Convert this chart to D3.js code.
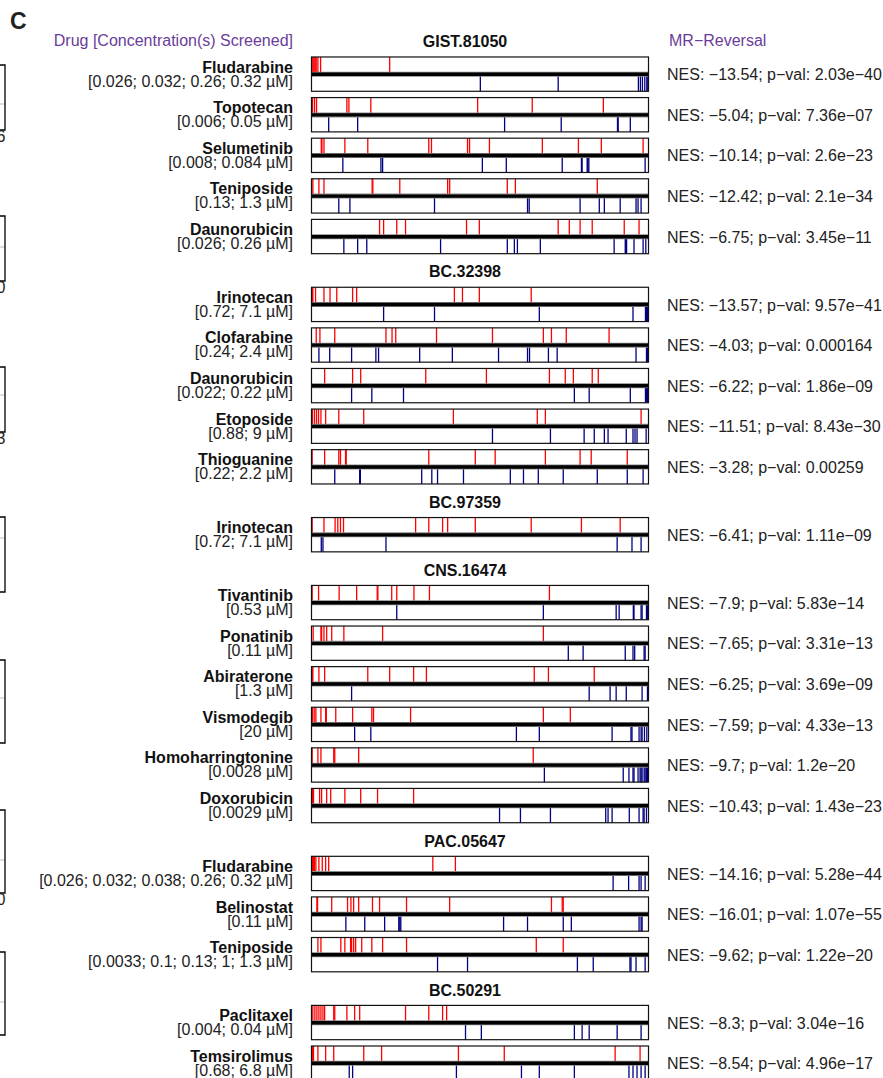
<!DOCTYPE html>
<html><head><meta charset="utf-8">
<script src="https://cdn.jsdelivr.net/npm/d3@7"></script>
<style>
html,body{margin:0;padding:0;background:#fff;}
svg{display:block;font-family:"Liberation Sans",Arial,Helvetica,sans-serif;}
</style></head>
<body>
<div id="chart"></div>
<script>
// ---------------- DATA ----------------
const groups = ["GIST.81050","BC.32398","BC.97359","CNS.16474","PAC.05647","BC.50291"];
const drugs = ["Fludarabine","Topotecan","Selumetinib","Teniposide","Daunorubicin",
  "Irinotecan","Clofarabine","Daunorubicin","Etoposide","Thioguanine",
  "Irinotecan",
  "Tivantinib","Ponatinib","Abiraterone","Vismodegib","Homoharringtonine","Doxorubicin",
  "Fludarabine","Belinostat","Teniposide",
  "Paclitaxel","Temsirolimus"];
const drugGroup = [0,0,0,0,0,1,1,1,1,1,2,3,3,3,3,3,3,4,4,4,5,5];
const concentrations = ["0.026; 0.032; 0.26; 0.32","0.006; 0.05","0.008; 0.084","0.13; 1.3","0.026; 0.26",
  "0.72; 7.1","0.24; 2.4","0.022; 0.22","0.88; 9","0.22; 2.2",
  "0.72; 7.1",
  "0.53","0.11","1.3","20","0.0028","0.0029",
  "0.026; 0.032; 0.038; 0.26; 0.32","0.11","0.0033; 0.1; 0.13; 1; 1.3",
  "0.004; 0.04","0.68; 6.8"];
const nesValues = [-13.54,-5.04,-10.14,-12.42,-6.75,
  -13.57,-4.03,-6.22,-11.51,-3.28,
  -6.41,
  -7.9,-7.65,-6.25,-7.59,-9.7,-10.43,
  -14.16,-16.01,-9.62,
  -8.3,-8.54];
const pValues = ["2.03e-40","7.36e-07","2.6e-23","2.1e-34","3.45e-11",
  "9.57e-41","0.000164","1.86e-09","8.43e-30","0.00259",
  "1.11e-09",
  "5.83e-14","3.31e-13","3.69e-09","4.33e-13","1.2e-20","1.43e-23",
  "5.28e-44","1.07e-55","1.22e-20",
  "3.04e-16","4.96e-17"];
// hit positions on a 0..1000 rank scale (upper = red, lower = blue)
const redHits = [
  [2,5,8,11,14,19,27,232],
  [3,9,15,105,111,176,493,655,866],
  [29,31,37,99,167,348,356,463,469,528,685,792,860,984],
  [4,22,37,180,182,262,404,410,581,605,848],
  [202,214,253,279,460,498,732,765,797,833,928,972],
  [2,4,12,37,55,75,122,134,424,448,498,652],
  [14,25,69,221,239,250,371,537,688,712,756,883],
  [39,122,146,339,519,706,753,777,833,851],
  [3,9,15,21,28,42,81,155,421,670,694,978],
  [2,39,81,86,101,103,348,486,545,694,797,830,937],
  [2,37,70,78,86,95,309,348,389,404,486,652,801,916],
  [2,21,82,134,195,197,238,253,304,350,706],
  [5,28,30,37,45,60,96,211,688],
  [2,4,22,39,167,232,303,341,661,703,839],
  [3,8,13,28,42,44,72,122,179,184,294,688,768],
  [2,19,28,66,69,140,658],
  [3,6,24,30,45,57,99,146,196,303],
  [3,6,9,13,22,32,42,51,360,427],
  [16,18,60,107,117,125,140,181,202,282,410,712,744,747],
  [19,28,87,99,116,119,125,131,149,179,211,282,667,747],
  [4,10,16,22,28,34,39,66,69,105,128,143,279,348,389,401],
  [2,4,6,19,42,66,155,208,436,572,901,975]
];
const blueHits = [
  [501,732,970,976,982,989,995,998],
  [51,137,573,741,908,910,946],
  [93,206,211,507,578,744,801,803,818,820,823,990],
  [81,114,365,641,646,797,854,869,916,963,969,978],
  [96,137,164,383,581,602,611,679,898,931,933,935,957,984,992],
  [214,365,676,954,991,994,997],
  [22,54,119,191,199,321,418,555,641,647,703,729,963,994,997],
  [119,179,273,780,824,946,991,994,997],
  [537,709,809,839,869,880,934,954,960,966,993],
  [69,143,145,327,357,374,451,590,629,673,747,848,937,984],
  [29,34,221,907,951,978],
  [253,688,904,913,955,957,978,981,994,997],
  [762,806,931,954,959,987,990],
  [119,824,886,904,934,981,997],
  [128,176,608,676,892,948,951,972,978,981,988,995],
  [691,925,942,954,957,969,975,978,981,987,990,994,997],
  [558,620,709,873,880,892,943,972,984,987,994],
  [895,941,972,978,990],
  [102,158,217,259,262,265,570,641,747,771,972,978,981],
  [374,463,789,836,945,948,963,990],
  [457,504,780,803,824,907,978],
  [112,122,430,623,676,780,942,954,966,978,990]
];
// clipped fragments of the neighbouring panel at the left edge (top, middle, bottom, label)
const edgeTop = [65,216,367,517,660,810,952];
const edgeMid = [104,247,395,538,698,860,1002];
const edgeBottom = [130,281,432,592,743,893,1035];
const edgeLabels = ["6","0","3","","","0",""];

// ---------------- LAYOUT ----------------
const W = 883, H = 1078;
const PURPLE = "#6a3d9a", RED = "#ff0000", BLUE = "#000080";
const headerUnits = 0.672;
const fmt = s => String(s).replace(/-/g, "\u2212");

const svg = d3.select("#chart").append("svg").attr("width", W).attr("height", H);
svg.append("rect").attr("width", W).attr("height", H).attr("fill", "#fff");

const x = d3.scaleLinear().domain([0, 1000]).range([311.5, 648.5]);
const y = d3.scaleLinear().domain([0, 1]).range([29.7, 70.3]);
const pageY = d3.scaleLinear().domain([0, H]).range([0, H]);
const panelH = 34.3, midOff = 17.3;

const rows = drugs.map((d, i) => ({
  i, drug: d, g: drugGroup[i], conc: concentrations[i],
  nes: nesValues[i], p: pValues[i], red: redHits[i], blue: blueHits[i],
  top: y(i + (drugGroup[i] + 1) * headerUnits)
}));

// left-edge fragments
const edge = svg.append("g");
edgeTop.forEach((t, k) => {
  const t0 = pageY(t), m = pageY(edgeMid[k]), b = pageY(edgeBottom[k]);
  edge.append("line").attr("x1", 0).attr("x2", 5).attr("y1", m).attr("y2", m).attr("stroke", "#bbb").attr("stroke-width", 1);
  edge.append("path").attr("d", `M-2,${t0}H5V${b}H-2`).attr("fill", "none").attr("stroke", "#000").attr("stroke-width", 1.3);
  if (edgeLabels[k]) edge.append("text").attr("x", 5.5).attr("y", b + 12).attr("text-anchor", "end")
    .attr("font-size", 16).attr("fill", "#222").text(edgeLabels[k]);
});

// titles
svg.append("text").attr("x", 10).attr("y", 28.5).attr("font-size", 23).attr("font-weight", "bold").attr("fill", "#222").text("C");
svg.append("text").attr("x", 293).attr("y", 45.5).attr("text-anchor", "end").attr("font-size", 16).attr("fill", PURPLE)
  .text("Drug [Concentration(s) Screened]");
svg.append("text").attr("x", 669).attr("y", 46).attr("font-size", 16).attr("fill", PURPLE).text("MR\u2212Reversal");

// group headers
groups.forEach((g, gi) => {
  const first = rows.find(r => r.g === gi);
  svg.append("text").attr("x", 465).attr("y", first.top - 9.8).attr("text-anchor", "middle")
    .attr("font-size", 16).attr("font-weight", "bold").attr("fill", "#111").text(g);
});

// rows
const rowG = svg.selectAll("g.row").data(rows).join("g").attr("class", "row");

rowG.append("text").attr("x", 293).attr("y", d => d.top + 15.6).attr("text-anchor", "end")
  .attr("font-size", 16).attr("font-weight", "bold").attr("fill", "#111").text(d => d.drug);
rowG.append("text").attr("x", 293).attr("y", d => d.top + 29.6).attr("text-anchor", "end")
  .attr("font-size", 16).attr("fill", "#222").text(d => `[${d.conc} \u00b5M]`);
rowG.append("text").attr("x", 667).attr("y", d => d.top + 23.3)
  .attr("font-size", 16).attr("fill", "#222").text(d => `NES: ${fmt(d.nes)}; p\u2212val: ${fmt(d.p)}`);

// red hits (upper half)
rowG.each(function(d) {
  const g = d3.select(this);
  g.selectAll("line.r").data(d.red).join("line").attr("class", "r")
    .attr("x1", v => x(v)).attr("x2", v => x(v))
    .attr("y1", d.top).attr("y2", d.top + midOff - 1.5)
    .attr("stroke", RED).attr("stroke-width", 1.3);
  g.selectAll("line.b").data(d.blue).join("line").attr("class", "b")
    .attr("x1", v => x(v)).attr("x2", v => x(v))
    .attr("y1", d.top + midOff + 1.5).attr("y2", d.top + panelH)
    .attr("stroke", BLUE).attr("stroke-width", 1.3);
});

// middle thick line
rowG.append("line").attr("x1", x(0)).attr("x2", x(1000))
  .attr("y1", d => d.top + midOff).attr("y2", d => d.top + midOff)
  .attr("stroke", "#888").attr("stroke-width", 5);
rowG.append("line").attr("x1", x(0)).attr("x2", x(1000))
  .attr("y1", d => d.top + midOff).attr("y2", d => d.top + midOff)
  .attr("stroke", "#000").attr("stroke-width", 3.4);

// panel frame
rowG.append("rect").attr("x", x(0)).attr("width", x(1000) - x(0))
  .attr("y", d => d.top).attr("height", panelH)
  .attr("fill", "none").attr("stroke", "#111").attr("stroke-width", 1.2);
</script>
</body></html>
